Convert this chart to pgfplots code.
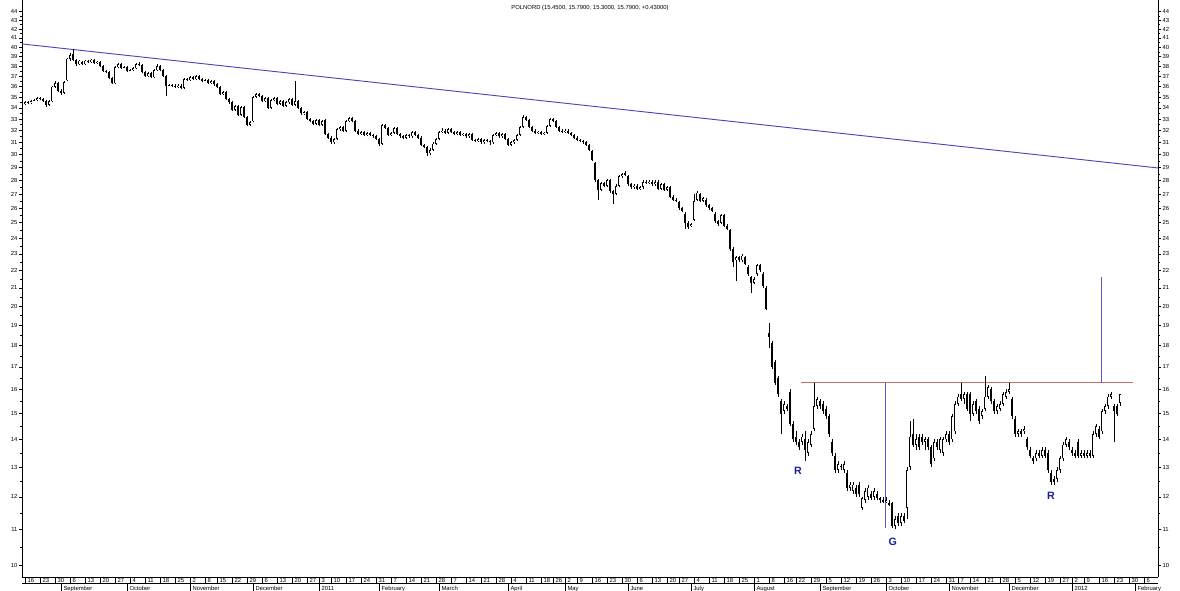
\documentclass[border=0pt]{standalone}
\usepackage{pgfplots}
\pgfplotsset{compat=1.18}
\usepackage{pgfplotstable}
\usepackage{fontspec}
\setmainfont{Liberation Sans}
\definecolor{trendblue}{RGB}{75,70,185}
\definecolor{lvlred}{RGB}{195,110,100}
\definecolor{vblue}{RGB}{95,90,200}
\definecolor{lblblue}{RGB}{30,30,150}
\newcommand\tickfont{\fontsize{4.4pt}{5pt}\selectfont}
\newcommand\dd[1]{\rule[-1pt]{0.4pt}{4.5pt}\hspace{1.3pt}#1}
\newcommand\mm[1]{\rule[-1.6pt]{0.4pt}{6pt}\hspace{1.3pt}#1}

\pgfplotstableread{
i o h l c
0 34.4 34.6 34.3 34.5
1 34.5 34.6 34.4 34.45
2 34.5 34.7 34.4 34.6
3 34.6 34.8 34.5 34.7
4 34.7 35.0 34.6 34.9
5 34.9 35.0 34.7 34.8
6 34.8 34.9 34.5 34.6
7 34.6 34.7 34.1 34.3
8 34.3 34.7 34.2 34.6
9 34.6 36.1 34.5 36.0
10 36.0 36.5 35.9 36.3
11 36.3 36.4 35.5 35.6
12 35.6 35.8 35.2 35.4
13 35.4 36.5 35.3 36.4
14 36.6 38.9 36.5 38.8
15 38.8 39.4 38.6 39.2
16 39.3 39.8 38.6 38.7
17 38.7 38.8 38.0 38.2
18 38.2 38.7 38.1 38.6
19 38.5 38.6 38.1 38.2
20 38.2 38.7 38.1 38.6
21 38.6 38.7 38.3 38.4
22 38.4 38.8 38.3 38.7
23 38.7 38.8 38.2 38.3
24 38.3 38.6 38.2 38.5
25 38.5 38.6 37.9 38.0
26 38.0 38.1 37.4 37.5
27 37.5 37.6 37.3 37.4
28 37.4 37.5 36.7 36.8
29 36.8 36.9 36.2 36.3
30 36.3 38.0 36.2 37.9
31 37.9 38.3 37.8 38.2
32 38.2 38.3 37.7 37.8
33 37.8 38.0 37.7 37.9
34 37.9 38.0 37.4 37.5
35 37.5 37.7 37.4 37.6
36 37.6 37.9 37.5 37.8
37 37.8 38.3 37.7 38.2
38 38.2 38.4 38.0 38.1
39 38.1 38.2 37.3 37.4
40 37.4 37.5 36.9 37.0
41 37.0 37.4 36.9 37.3
42 37.3 37.4 36.8 36.9
43 36.9 37.7 36.8 37.6
44 37.6 38.2 37.5 38.0
45 38.0 38.1 37.5 37.6
46 37.6 37.7 36.9 37.0
47 37.0 37.1 35.1 36.1
48 36.1 36.2 36.0 36.15
49 36.15 36.2 36.0 36.1
50 36.1 36.2 35.9 36.0
51 36.0 36.2 35.9 36.1
52 36.1 36.2 35.8 35.9
53 35.9 36.8 35.8 36.7
54 36.7 36.8 36.5 36.6
55 36.6 37.0 36.5 36.9
56 36.9 37.0 36.6 36.7
57 36.7 37.1 36.6 37.0
58 37.0 37.1 36.6 36.7
59 36.7 36.8 36.4 36.5
60 36.5 36.7 36.4 36.6
61 36.6 36.7 36.2 36.3
62 36.3 36.6 36.2 36.5
63 36.5 36.6 36.1 36.2
64 36.2 36.3 35.9 36.0
65 36.0 36.1 35.2 35.3
66 35.3 35.6 35.2 35.5
67 35.5 35.6 34.7 34.8
68 34.8 34.9 34.4 34.5
69 34.5 34.6 33.7 33.8
70 33.8 34.3 33.7 34.2
71 34.2 34.3 33.3 33.4
72 33.4 34.2 33.3 34.1
73 34.1 34.2 33.1 33.2
74 33.2 33.3 32.4 32.5
75 32.5 32.8 32.4 32.7
76 32.8 35.1 32.7 35.0
77 35.0 35.4 34.9 35.3
78 35.3 35.4 35.0 35.1
79 35.1 35.2 34.5 34.6
80 34.6 35.0 34.5 34.9
81 34.9 35.0 33.9 34.0
82 34.0 34.8 33.9 34.7
83 34.7 35.0 34.6 34.9
84 34.9 35.0 34.3 34.4
85 34.4 34.7 34.3 34.6
86 34.6 34.7 34.1 34.2
87 34.2 34.6 34.1 34.5
88 34.5 34.9 34.4 34.8
89 34.8 34.9 34.2 34.3
90 34.3 36.5 34.2 34.6
91 34.6 34.7 33.9 34.0
92 34.0 34.1 33.4 33.5
93 33.5 33.7 33.4 33.6
94 33.6 33.7 32.9 33.0
95 33.0 33.1 32.7 32.8
96 32.8 32.9 32.5 32.6
97 32.6 33.0 32.5 32.9
98 32.9 33.0 32.4 32.5
99 32.5 32.9 32.4 32.8
100 32.9 33.0 31.6 31.7
101 31.7 31.8 31.3 31.4
102 31.4 31.5 30.9 31.0
103 31.0 31.4 30.9 31.3
104 31.3 32.2 31.2 32.1
105 32.1 32.4 32.0 32.3
106 32.3 32.4 31.9 32.0
107 32.0 32.9 31.9 32.8
108 32.8 33.2 32.7 33.1
109 33.1 33.2 32.7 32.8
110 32.8 32.9 31.9 32.0
111 32.0 32.1 31.6 31.7
112 31.7 32.0 31.6 31.9
113 31.9 32.0 31.5 31.6
114 31.6 31.9 31.5 31.8
115 31.8 31.9 31.5 31.6
116 31.6 31.7 31.4 31.5
117 31.5 31.6 31.2 31.3
118 31.3 31.4 30.7 30.9
119 30.9 32.6 30.8 32.5
120 32.5 32.6 32.1 32.2
121 32.2 32.3 31.5 31.6
122 31.6 31.9 31.5 31.8
123 31.8 32.3 31.7 32.2
124 32.2 32.3 31.6 31.7
125 31.7 31.8 31.4 31.5
126 31.5 31.6 31.3 31.4
127 31.4 31.7 31.3 31.6
128 31.6 31.7 31.4 31.5
129 31.5 32.0 31.4 31.9
130 31.9 32.0 31.5 31.6
131 31.6 31.7 31.3 31.4
132 31.4 31.5 30.7 30.8
133 30.8 30.9 30.5 30.6
134 30.6 30.7 29.9 30.1
135 30.1 30.5 30.0 30.4
136 30.4 31.0 30.3 30.9
137 30.9 31.4 30.8 31.3
138 31.3 32.0 31.2 31.9
139 31.9 32.2 31.8 32.0
140 32.0 32.1 31.7 31.8
141 31.8 32.2 31.7 32.1
142 32.1 32.2 31.8 31.9
143 31.9 32.0 31.6 31.7
144 31.7 32.0 31.6 31.9
145 31.9 32.0 31.5 31.6
146 31.6 31.8 31.5 31.7
147 31.7 31.8 31.4 31.5
148 31.5 31.8 31.4 31.7
149 31.7 31.8 31.1 31.2
150 31.2 31.3 31.0 31.1
151 31.1 31.4 31.0 31.3
152 31.3 31.4 30.9 31.0
153 31.0 31.3 30.9 31.2
154 31.2 31.3 31.0 31.1
155 31.1 31.2 30.8 31.0
156 31.0 31.7 30.9 31.6
157 31.6 31.9 31.5 31.8
158 31.8 31.9 31.4 31.5
159 31.5 31.8 31.4 31.7
160 31.7 31.8 31.2 31.3
161 31.3 31.4 30.7 30.8
162 30.8 31.1 30.7 31.0
163 31.0 31.3 30.9 31.2
164 31.2 31.7 31.1 31.6
165 31.6 32.4 31.5 32.3
166 32.3 33.4 32.2 33.2
167 33.2 33.3 32.8 32.9
168 32.9 33.0 32.2 32.3
169 32.3 32.4 31.9 32.0
170 32.0 32.1 31.7 31.8
171 31.8 32.0 31.7 31.9
172 31.9 32.0 31.6 31.7
173 31.7 31.9 31.6 31.8
174 31.8 32.5 31.7 32.4
175 32.4 33.1 32.3 33.0
176 33.0 33.1 32.7 32.8
177 32.8 32.9 32.2 32.3
178 32.3 32.4 31.9 32.0
179 32.0 32.1 31.8 31.9
180 31.9 32.1 31.8 32.0
181 32.0 32.1 31.7 31.8
182 31.8 31.9 31.5 31.6
183 31.6 31.7 31.3 31.4
184 31.4 31.5 31.1 31.2
185 31.2 31.3 31.0 31.1
186 31.1 31.2 30.9 31.0
187 31.0 31.1 30.7 30.8
188 30.8 30.9 30.3 30.4
189 30.3 30.4 29.5 29.6
190 29.3 29.4 27.9 28.0
191 28.0 28.1 26.6 27.3
192 27.3 27.9 27.2 27.8
193 27.8 27.9 27.5 27.6
194 27.6 28.1 27.5 28.0
195 28.0 28.1 27.1 27.2
196 27.2 27.3 26.3 27.0
197 27.0 27.7 26.9 27.6
198 27.6 28.4 27.5 28.3
199 28.3 28.6 28.2 28.5
200 28.6 28.7 28.3 28.4
201 28.3 28.4 27.6 27.7
202 27.7 27.8 27.4 27.5
203 27.5 27.7 27.4 27.6
204 27.6 27.7 27.3 27.4
205 27.4 27.6 27.3 27.5
206 27.5 28.0 27.4 27.9
207 27.9 28.0 27.7 27.8
208 27.8 28.0 27.7 27.9
209 27.9 28.0 27.6 27.7
210 27.7 28.0 27.6 27.9
211 27.9 28.0 27.3 27.4
212 27.4 27.8 27.3 27.7
213 27.7 27.8 27.2 27.3
214 27.3 27.6 27.2 27.5
215 27.5 27.6 26.7 26.8
216 26.8 26.9 26.5 26.6
217 26.6 26.7 26.4 26.5
218 26.4 26.5 25.9 26.0
219 26.0 26.1 25.7 25.8
220 25.6 25.7 24.6 25.0
221 25.0 25.1 24.6 24.7
222 24.8 25.0 24.7 24.9
223 25.2 27.0 25.1 26.5
224 26.6 27.2 26.5 27.1
225 27.0 27.1 26.4 26.5
226 26.5 26.8 26.4 26.7
227 26.6 26.7 26.1 26.2
228 26.2 26.3 25.9 26.0
229 26.0 26.1 25.7 25.8
230 25.6 25.7 25.0 25.1
231 25.1 25.2 24.8 24.9
232 25.0 25.6 24.9 25.5
233 25.5 25.6 24.7 24.8
234 24.8 24.9 24.5 24.6
235 24.5 24.6 23.2 23.3
236 23.3 23.4 22.2 22.5
237 22.6 22.9 21.4 22.8
238 22.8 22.9 22.5 22.6
239 22.6 23.0 22.5 22.9
240 22.8 22.9 22.3 22.4
241 22.2 22.3 21.7 21.8
242 21.6 21.7 20.7 21.3
243 21.3 21.6 21.2 21.5
244 21.8 22.4 21.7 22.3
245 22.3 22.4 21.9 22.0
246 21.8 21.9 21.0 21.1
247 21.0 21.1 19.8 19.85
248 18.6 19.1 17.9 18.4
249 18.1 18.2 16.9 17.0
250 17.2 17.3 16.2 16.3
251 16.5 16.6 15.7 15.8
252 15.5 15.6 14.2 15.0
253 15.1 15.5 15.0 15.4
254 15.3 15.4 15.1 15.2
255 15.9 16.0 14.5 14.6
256 14.6 14.7 13.9 14.0
257 14.1 14.3 13.8 13.9
258 13.9 14.0 13.6 13.7
259 13.9 14.2 13.8 14.1
260 14.0 14.3 13.2 13.6
261 13.5 14.0 13.4 13.9
262 13.8 14.3 13.7 14.2
263 14.4 16.3 14.3 15.3
264 15.3 15.7 15.2 15.6
265 15.5 15.6 15.2 15.3
266 15.4 15.5 15.0 15.1
267 15.2 15.3 14.8 14.9
268 14.9 15.0 14.1 14.2
269 13.9 14.0 13.4 13.5
270 13.4 13.5 12.8 12.9
271 12.9 13.2 12.8 13.1
272 13.05 13.1 12.9 13.0
273 12.9 13.2 12.8 13.1
274 12.8 12.9 12.2 12.3
275 12.3 12.5 12.2 12.4
276 12.2 12.5 12.1 12.4
277 12.3 12.4 12.0 12.1
278 12.4 12.5 12.0 12.1
279 11.65 12.0 11.6 11.96
280 11.9 12.3 11.8 12.2
281 12.0 12.4 11.9 12.3
282 12.1 12.2 11.9 11.95
283 12.0 12.3 11.9 12.2
284 12.1 12.2 11.9 11.95
285 11.95 12.0 11.8 11.9
286 11.9 12.0 11.8 11.85
287 11.85 12.0 11.8 11.9
288 11.8 11.9 11.7 11.75
289 11.8 11.85 11.05 11.1
290 11.1 11.4 11.0 11.3
291 11.4 11.5 11.1 11.2
292 11.2 11.5 11.1 11.4
293 11.4 11.5 11.2 11.25
294 11.65 13.0 11.3 12.9
295 13.0 14.7 12.9 14.1
296 14.2 14.8 13.7 13.8
297 13.8 14.2 13.6 14.0
298 14.1 14.2 13.6 13.7
299 14.1 14.2 13.8 13.9
300 13.9 14.1 13.6 14.0
301 14.0 14.1 13.6 13.7
302 13.7 13.8 13.0 13.1
303 13.3 14.0 13.2 13.9
304 13.9 14.0 13.6 13.7
305 13.6 14.1 13.5 14.0
306 13.5 14.1 13.4 14.0
307 14.0 14.3 13.9 14.2
308 14.2 14.3 13.8 13.9
309 14.0 15.0 13.9 14.9
310 14.3 15.5 14.2 15.4
311 15.4 15.8 15.3 15.7
312 15.8 16.3 15.5 15.6
313 15.6 15.9 15.4 15.8
314 15.8 15.9 15.1 15.2
315 15.8 15.9 14.7 15.0
316 15.0 15.5 14.9 15.4
317 15.5 15.6 15.0 15.1
318 15.2 15.3 14.6 14.7
319 14.9 15.2 14.8 15.1
320 15.2 16.6 15.1 15.7
321 15.7 16.2 15.6 16.1
322 16.0 16.1 15.4 15.5
323 15.5 15.6 15.0 15.1
324 15.1 15.4 15.0 15.3
325 15.2 15.5 15.1 15.4
326 15.4 15.9 15.3 15.8
327 15.7 16.0 15.6 15.9
328 15.9 16.3 15.8 16.0
329 15.6 15.7 14.8 14.9
330 14.8 14.9 14.1 14.2
331 14.2 14.4 14.1 14.3
332 14.3 14.4 14.1 14.2
333 14.3 14.5 14.2 14.4
334 14.0 14.1 13.6 13.7
335 13.6 13.7 13.3 13.4
336 13.3 13.4 13.1 13.2
337 13.3 13.6 13.2 13.5
338 13.5 13.6 13.3 13.4
339 13.4 13.7 13.3 13.6
340 13.6 13.7 13.3 13.4
341 13.5 13.6 12.8 12.9
342 12.8 12.9 12.4 12.5
343 12.6 12.7 12.4 12.5
344 12.6 13.0 12.5 12.9
345 12.9 13.4 12.8 13.3
346 13.3 13.9 13.2 13.8
347 13.8 14.1 13.7 14.0
348 13.9 14.0 13.6 13.7
349 13.6 13.7 13.4 13.5
350 13.5 13.6 13.3 13.4
351 13.9 14.0 13.3 13.4
352 13.4 13.6 13.3 13.5
353 13.5 13.6 13.3 13.4
354 13.4 13.6 13.3 13.5
355 13.5 13.6 13.3 13.4
356 13.4 14.3 13.3 14.2
357 14.2 14.6 14.1 14.5
358 14.4 14.5 14.0 14.1
359 14.3 15.2 14.2 15.1
360 15.1 15.4 15.0 15.3
361 15.3 15.8 15.2 15.7
362 15.7 15.9 15.6 15.8
363 15.3 15.4 13.9 15.1
364 15.3 15.4 14.9 15.0
365 15.45 15.79 15.30 15.79
}\candles

\begin{document}
\begin{tikzpicture}
\begin{axis}[
  name=ax,
  scale only axis, width=852pt, height=432.75pt,
  at={(0,0)}, anchor=south west,
  xmin=-1, xmax=377.67, ymin=9.684, ymax=45.39,
  ymode=log,
  axis lines*=left,
  axis line style={black, line width=0.5pt, -},
  tick align=outside,
  major tick length=2.4pt, minor tick length=1.3pt,
  tick style={black, line width=0.4pt},
  ytick={10,11,12,13,14,15,16,17,18,19,20,21,22,23,24,25,26,27,28,29,30,31,32,33,34,35,36,37,38,39,40,41,42,43,44},
  yticklabels={10,11,12,13,14,15,16,17,18,19,20,21,22,23,24,25,26,27,28,29,30,31,32,33,34,35,36,37,38,39,40,41,42,43,44},
  minor ytick={10.5,11.5,12.5,13.5,14.5,15.5,16.5,17.5,18.5,19.5,20.5,21.5,22.5,23.5,24.5,25.5,26.5,27.5,28.5,29.5,30.5,31.5,32.5,33.5,34.5,35.5,36.5,37.5,38.5,39.5,40.5,41.5,42.5,43.5},
  yticklabel style={font=\tickfont, inner sep=0.8pt},
  xtick={0,5,10,15,20,25,30,35,40,45,50,55,60,64,69,74,79,84,89,94,98,102,107,112,117,122,127,132,137,142,147,152,157,162,167,172,176,180,184,189,194,199,204,209,214,218,223,228,233,238,243,248,253,257,262,267,272,277,282,287,292,297,302,307,311,315,320,325,330,335,340,345,349,353,358,363,368,373},
  xticklabels={\dd{16},\dd{23},\dd{30},\dd{6},\dd{13},\dd{20},\dd{27},\dd{4},\dd{11},\dd{18},\dd{25},\dd{2},\dd{8},\dd{15},\dd{22},\dd{29},\dd{6},\dd{13},\dd{20},\dd{27},\dd{3},\dd{10},\dd{17},\dd{24},\dd{31},\dd{7},\dd{14},\dd{21},\dd{28},\dd{7},\dd{14},\dd{21},\dd{28},\dd{4},\dd{11},\dd{18},\dd{26},\dd{2},\dd{9},\dd{16},\dd{23},\dd{30},\dd{6},\dd{13},\dd{20},\dd{27},\dd{4},\dd{11},\dd{18},\dd{25},\dd{1},\dd{8},\dd{16},\dd{22},\dd{29},\dd{5},\dd{12},\dd{19},\dd{26},\dd{3},\dd{10},\dd{17},\dd{24},\dd{31},\dd{7},\dd{14},\dd{21},\dd{28},\dd{5},\dd{12},\dd{19},\dd{27},\dd{2},\dd{9},\dd{16},\dd{23},\dd{30},\dd{6}},
  xtick style={draw=none},
  xticklabel style={font=\tickfont, anchor=north west, inner sep=0pt, yshift=1.6pt},
  extra x ticks={12,34,55,76,98,118,138,161,180,201,222,243,265,287,308,328,349,370},
  extra x tick labels={\mm{September},\mm{October},\mm{November},\mm{December},\mm{2011},\mm{February},\mm{March},\mm{April},\mm{May},\mm{June},\mm{July},\mm{August},\mm{September},\mm{October},\mm{November},\mm{December},\mm{2012},\mm{February}},
  extra x tick style={tick label style={yshift=-4.5pt}},
]
\addplot[trendblue, line width=0.7pt, forget plot] coordinates {(-1,40.35) (377.67,28.95)};
\addplot[lvlred, line width=1.1pt, forget plot] coordinates {(258.7,16.29) (369.3,16.29)};
\addplot[vblue, line width=0.75pt, forget plot] coordinates {(286.7,16.29) (286.7,11.04)};
\addplot[vblue, line width=0.75pt, forget plot] coordinates {(359,16.29) (359,21.62)};
\addplot[draw=none, mark=none, forget plot,
  error bars/.cd, y dir=plus, y explicit, error mark=none,
  error bar style={draw=black, line width=0.6pt}]
  table[x=i, y=l, y error expr=\thisrow{h}-\thisrow{l}] {\candles};
\addplot[draw=none, mark=none, forget plot,
  error bars/.cd, y dir=plus, y explicit, error mark=none,
  error bar style={draw=black, line width=2.2pt}]
  table[x=i, y expr={min(\thisrow{o},\thisrow{c})}, y error expr={abs(\thisrow{c}-\thisrow{o})}] {\candles};
\addplot[draw=none, mark=none, forget plot,
  restrict expr to domain={\thisrow{c}-\thisrow{o}}{0.001:100}, unbounded coords=discard,
  error bars/.cd, y dir=plus, y explicit, error mark=none,
  error bar style={draw=white, line width=0.7pt, shorten <=0.6pt, shorten >=0.6pt}]
  table[x=i, y=o, y error expr=\thisrow{c}-\thisrow{o}] {\candles};
\node[font=\fontsize{4.4pt}{5pt}\selectfont, anchor=north] at (rel axis cs:0.5,1) [yshift=-0.6pt] {POLNORD (15.4500, 15.7900, 15.3000, 15.7900, +0.43000)};
\node[font=\fontsize{8pt}{9pt}\selectfont\bfseries, text=lblblue] at (axis cs:257.7,12.86) {R};
\node[font=\fontsize{8pt}{9pt}\selectfont\bfseries, text=lblblue] at (axis cs:289.3,10.63) {G};
\node[font=\fontsize{8pt}{9pt}\selectfont\bfseries, text=lblblue] at (axis cs:342,12.03) {R};
\end{axis}
\begin{axis}[
  scale only axis, width=852pt, height=432.75pt,
  at={(0,0)}, anchor=south west,
  xmin=-1, xmax=377.67, ymin=9.684, ymax=45.39,
  ymode=log,
  axis y line*=right, axis x line=none,
  axis line style={black, line width=0.5pt, -},
  tick align=outside,
  major tick length=2.4pt, minor tick length=1.3pt,
  tick style={black, line width=0.4pt},
  ytick={10,11,12,13,14,15,16,17,18,19,20,21,22,23,24,25,26,27,28,29,30,31,32,33,34,35,36,37,38,39,40,41,42,43,44},
  yticklabels={10,11,12,13,14,15,16,17,18,19,20,21,22,23,24,25,26,27,28,29,30,31,32,33,34,35,36,37,38,39,40,41,42,43,44},
  minor ytick={10.5,11.5,12.5,13.5,14.5,15.5,16.5,17.5,18.5,19.5,20.5,21.5,22.5,23.5,24.5,25.5,26.5,27.5,28.5,29.5,30.5,31.5,32.5,33.5,34.5,35.5,36.5,37.5,38.5,39.5,40.5,41.5,42.5,43.5},
  yticklabel style={font=\tickfont, inner sep=0.8pt},
]
\addplot[draw=none, forget plot] coordinates {(0,20) (1,20)};
\end{axis}
\draw[line width=0.4pt] ([yshift=-4.5pt]ax.south west) -- ([yshift=-4.5pt]ax.south east);
\pgfresetboundingbox
\path[use as bounding box] ([xshift=-16.5pt,yshift=-10.5pt]ax.south west) rectangle ([xshift=16.5pt]ax.north east);
\end{tikzpicture}
\end{document}
